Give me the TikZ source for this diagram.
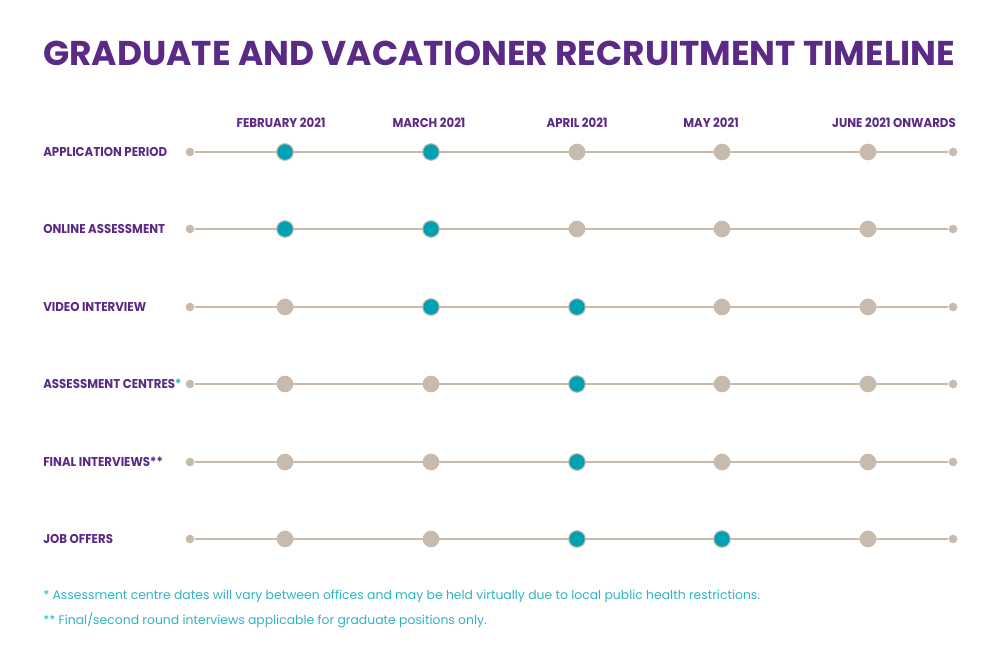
\documentclass[tikz,border=0pt]{standalone}
\usepackage{fontspec}
\setmainfont{Poppins}
\usetikzlibrary{positioning}

\definecolor{purp}{HTML}{5B2A86}
\definecolor{stone}{HTML}{C8BBAE}
\definecolor{dotteal}{HTML}{00A1B3}
\definecolor{noteteal}{HTML}{2DB4C2}

% narrower caps for the labels
\newcommand{\sq}[1]{\scalebox{0.92}[1]{#1}}

\tikzset{
  rowlabel/.style={anchor=west, text=purp, font=\fontsize{9.6}{12}\selectfont\bfseries, inner sep=0pt},
  monthlabel/.style={text=purp, font=\fontsize{9.6}{12}\selectfont\bfseries, inner sep=0pt},
  notetext/.style={anchor=west, inner sep=0pt, text=noteteal, font=\fontsize{9.3}{12}\selectfont},
  enddot/.style={circle, fill=stone, minimum size=6.5pt, inner sep=0pt},
  bigdot/.style={circle, minimum size=12.5pt, inner sep=0pt},
  off/.style={fill=stone},
  on/.style={fill=dotteal, draw=stone, line width=0.8pt},
  track/.style={draw=stone, line width=1.5pt},
}

\begin{document}
\begin{tikzpicture}[x=0.75pt, y=-0.75pt]
  \useasboundingbox (0,0) rectangle (1000,664);

  % title
  \node[anchor=west, inner sep=0pt, text=purp, font=\fontsize{25.8}{30}\selectfont\bfseries]
    (title) at (43,53) {GRADUATE AND VACATIONER RECRUITMENT TIMELINE};

  % months
  \node[monthlabel] (m1) at (281,123) {\sq{FEBRUARY 2021}};
  \node[monthlabel] (m2) at (429,123) {\sq{MARCH 2021}};
  \node[monthlabel] (m3) at (577,123) {\sq{APRIL 2021}};
  \node[monthlabel] (m4) at (711,123) {\sq{MAY 2021}};
  \node[monthlabel] (m5) at (894,123) {\sq{JUNE 2021 ONWARDS}};

  % rows
  \foreach \y/\lab/\a/\b/\c/\d/\e [count=\r] in {
      152/APPLICATION PERIOD/on/on/off/off/off,
      229/ONLINE ASSESSMENT/on/on/off/off/off,
      307/VIDEO INTERVIEW/off/on/on/off/off,
      384/ASSESSMENT CENTRES\textcolor{noteteal}{*}/off/off/on/off/off,
      462/FINAL INTERVIEWS**/off/off/on/off/off,
      539/JOB OFFERS/off/off/on/on/off}{
    \node[rowlabel] (l\r) at (43,\y) {\sq{\lab}};
    \node[enddot] (r\r s) at (190,\y) {};
    \node[enddot] (r\r e) at (953,\y) {};
    \draw[track] (r\r s) -- (r\r e);
    \node[bigdot,\a] (r\r c1) at (285,\y) {};
    \node[bigdot,\b] (r\r c2) at (431,\y) {};
    \node[bigdot,\c] (r\r c3) at (577,\y) {};
    \node[bigdot,\d] (r\r c4) at (722,\y) {};
    \node[bigdot,\e] (r\r c5) at (868,\y) {};
  }

  % notes
  \node[notetext] (n1) at (43,596) {* Assessment centre dates will vary between offices and may be held virtually due to local public health restrictions.};
  \node[notetext] (n2) at (43,620) {** Final/second round interviews applicable for graduate positions only.};
\end{tikzpicture}
\end{document}
